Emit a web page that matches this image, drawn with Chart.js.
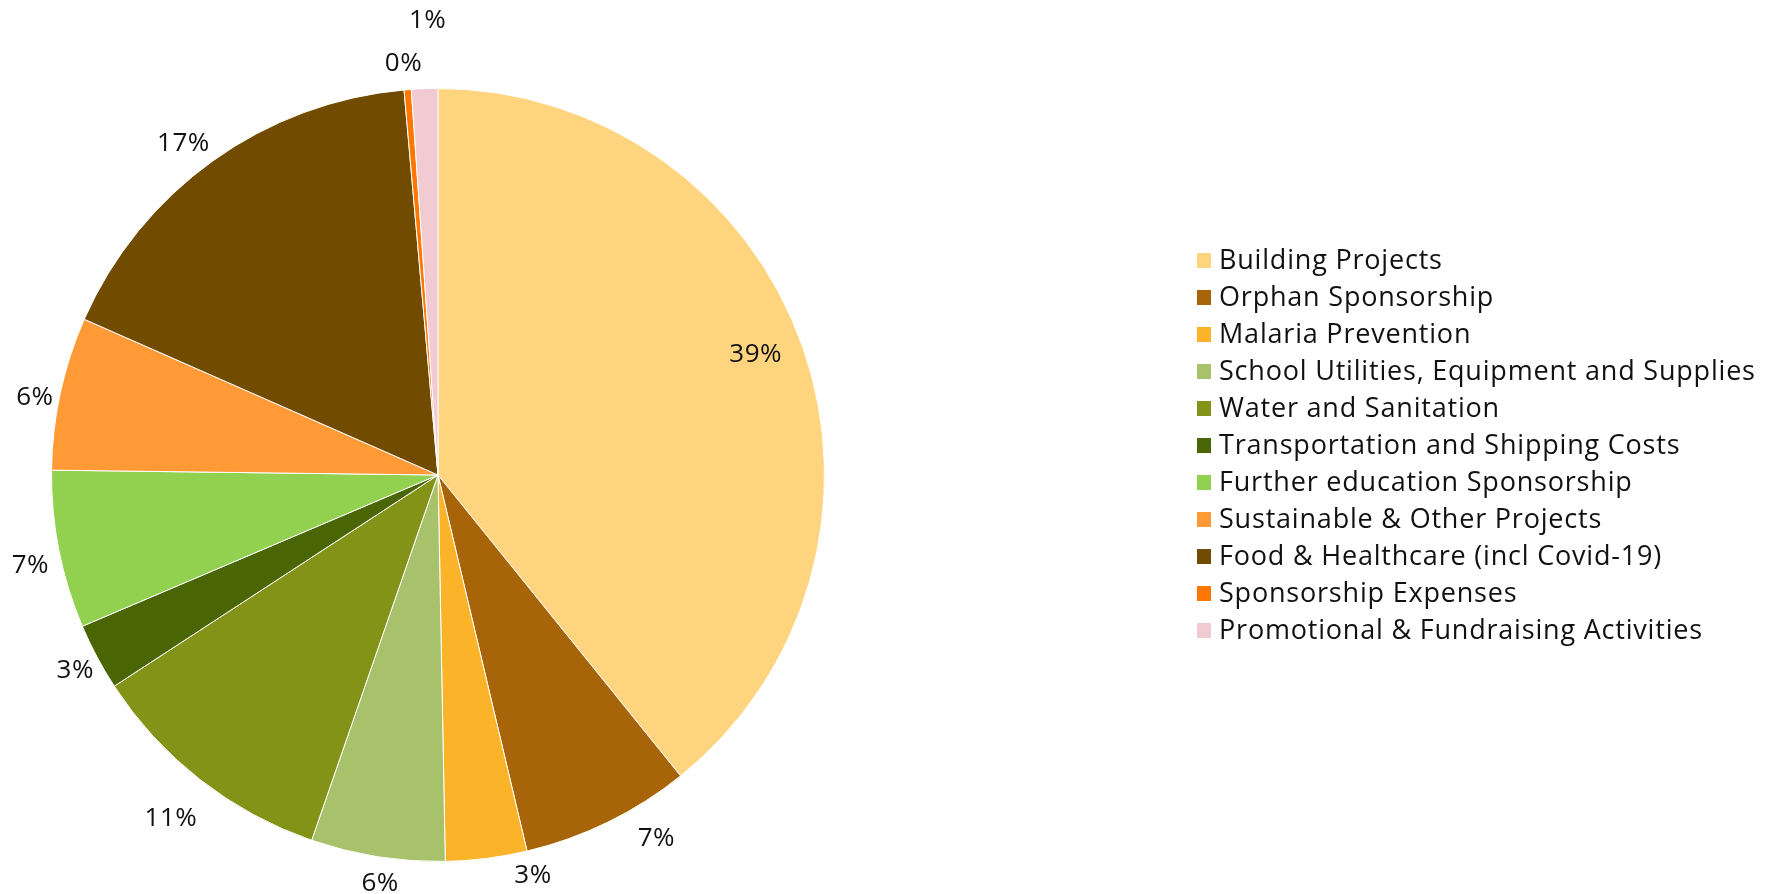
<!DOCTYPE html>
<html>
<head>
<meta charset="utf-8">
<script src="https://cdn.jsdelivr.net/npm/chart.js@4.4.1/dist/chart.umd.min.js"></script>
<style>
html, body { margin: 0; padding: 0; background: #fff; }
#wrap { width: 1780px; height: 894px; position: relative; }
</style>
</head>
<body>
<div id="wrap"><canvas id="grafico" width="1780" height="894"></canvas></div>
<script>
// dados (% do total)
const categorias = [
    "Building Projects",
    "Orphan Sponsorship",
    "Malaria Prevention",
    "School Utilities, Equipment and Supplies",
    "Water and Sanitation",
    "Transportation and Shipping Costs",
    "Further education Sponsorship",
    "Sustainable & Other Projects",
    "Food & Healthcare (incl Covid-19)",
    "Sponsorship Expenses",
    "Promotional & Fundraising Activities"
];
const valores = [39.2, 7.1, 3.4, 5.6, 10.5, 2.8, 6.6, 6.4, 17.0, 0.3, 1.1];
const cores = ["#FFD47F", "#A86408", "#FBB429", "#A8C26B", "#829317", "#4A6604",
               "#92D050", "#FF9A36", "#714B00", "#FF7600", "#F2CAD1"];

// pequenos ajustes de posição dos rótulos (px), como o Excel faz
const ajustes = [[-3, -7], [36, -9], [43, -11], [7, -1], [-12, 17], [3, 0],
                 [-1, 10], [2, 10], [-13, 5], [-2, 2], [4, -40]];

const fonte = "'Open Sans', Lato, sans-serif";

const rotulos = {
    id: 'rotulos',
    afterDatasetsDraw(chart) {
        const ctx = chart.ctx;
        const meta = chart.getDatasetMeta(0);
        const total = valores.reduce((a, b) => a + b, 0);
        ctx.save();
        ctx.font = "26px " + fonte;
        ctx.letterSpacing = "0.5px";
        ctx.fillStyle = "#111";
        ctx.textAlign = "center";
        ctx.textBaseline = "middle";
        meta.data.forEach((arc, i) => {
            const p = arc.getProps(['x', 'y', 'startAngle', 'endAngle', 'outerRadius'], true);
            const meio = (p.startAngle + p.endAngle) / 2;
            const pct = valores[i] / total * 100;
            const dist = pct > 20 ? p.outerRadius * 0.88 : p.outerRadius + 28;
            const x = p.x + Math.cos(meio) * dist + ajustes[i][0];
            const y = p.y + Math.sin(meio) * dist + ajustes[i][1];
            ctx.fillText(Math.round(pct) + "%", x, y);
        });
        ctx.restore();
    }
};

const legenda = {
    id: 'legenda',
    afterDraw(chart) {
        const ctx = chart.ctx;
        ctx.save();
        ctx.font = "27px " + fonte;
        ctx.letterSpacing = "0.8px";
        ctx.textBaseline = "middle";
        chart.data.labels.forEach((nome, i) => {
            const y = 261 + i * 37;
            ctx.fillStyle = chart.data.datasets[0].backgroundColor[i];
            ctx.fillRect(1197, y - 8, 14, 15);
            ctx.fillStyle = "#111";
            ctx.fillText(nome, 1219, y);
        });
        ctx.restore();
    }
};

new Chart(document.getElementById('grafico'), {
    type: 'pie',
    data: {
        labels: categorias,
        datasets: [{
            data: valores,
            backgroundColor: cores,
            borderColor: "#ffffff",
            borderWidth: 1
        }]
    },
    options: {
        responsive: false,
        devicePixelRatio: 1,
        animation: false,
        layout: { padding: { left: 51, right: 955, top: 88, bottom: 32 } },
        plugins: {
            legend: { display: false },
            tooltip: { enabled: false }
        }
    },
    plugins: [rotulos, legenda]
});
</script>
</body>
</html>
